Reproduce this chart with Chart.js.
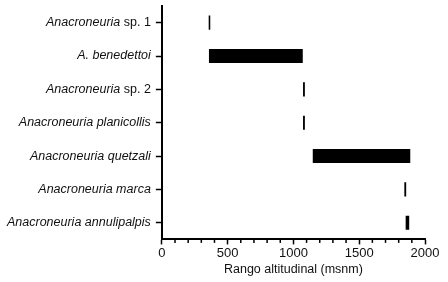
<!DOCTYPE html>
<html lang="en">
<head>
    <meta charset="UTF-8">
    <title>Rango altitudinal</title>
    <script src="https://cdn.jsdelivr.net/npm/chart.js"></script>
    <style>
        body { margin: 0; background: #fff; }
    </style>
</head>
<body>
    <canvas id="rangeChart" width="448" height="282"></canvas>

    <script>
        // species and their altitudinal range (msnm)
        const species = [
            'Anacroneuria sp. 1',
            'A. benedettoi',
            'Anacroneuria sp. 2',
            'Anacroneuria planicollis',
            'Anacroneuria quetzali',
            'Anacroneuria marca',
            'Anacroneuria annulipalpis'
        ];
        const rangeStart = [356, 358, 1073, 1073, 1147, 1843, 1853];
        const rangeEnd   = [368, 1071, 1087, 1087, 1888, 1857, 1880];
        const xTicks = [0, 500, 1000, 1500, 2000];

        const labelFont = 'italic 12.5px "Liberation Sans", Arial, sans-serif';
        const plainFont = '12.5px "Liberation Sans", Arial, sans-serif';

        // draws the y labels with the genus in italics, and the short minor ticks on x
        const extras = {
            id: 'extras',
            afterDraw(chart) {
                const ctx = chart.ctx;
                const y = chart.scales.y;
                const x = chart.scales.x;
                ctx.save();
                ctx.fillStyle = '#111';
                ctx.textBaseline = 'middle';
                ctx.textAlign = 'left';
                const right = y.right - 6 - 5;
                species.forEach((name, i) => {
                    const py = y.getPixelForTick(i);
                    let italic = name, plain = '';
                    const k = name.indexOf(' sp.');
                    if (k >= 0) { italic = name.slice(0, k); plain = name.slice(k); }
                    ctx.font = plainFont;
                    const wPlain = ctx.measureText(plain).width;
                    ctx.font = labelFont;
                    const wItalic = ctx.measureText(italic).width;
                    const start = right - wPlain - wItalic;
                    ctx.fillText(italic, start, py);
                    ctx.font = plainFont;
                    ctx.fillText(plain, start + wItalic, py);
                });
                // minor ticks every 100
                ctx.strokeStyle = '#000';
                ctx.lineWidth = 1.5;
                for (let v = 100; v < 2000; v += 100) {
                    if (v % 500 === 0) continue;
                    const px = x.getPixelForValue(v);
                    ctx.beginPath();
                    ctx.moveTo(px, x.top);
                    ctx.lineTo(px, x.top + 3.5);
                    ctx.stroke();
                }
                ctx.restore();
            }
        };

        new Chart(document.getElementById('rangeChart'), {
            type: 'bar',
            data: {
                labels: species,
                datasets: [{
                    data: species.map((s, i) => [rangeStart[i], rangeEnd[i]]),
                    backgroundColor: '#000',
                    borderWidth: 0,
                    categoryPercentage: 0.9,
                    barPercentage: 0.47
                }]
            },
            plugins: [extras],
            options: {
                indexAxis: 'y',
                responsive: false,
                animation: false,
                devicePixelRatio: 1,
                layout: { padding: { top: 6, right: 23, bottom: 5, left: 2 } },
                plugins: {
                    legend: { display: false },
                    tooltip: { enabled: false }
                },
                scales: {
                    x: {
                        min: 0,
                        max: 2000,
                        ticks: {
                            stepSize: 100,
                            autoSkip: false,
                            maxRotation: 0,
                            color: '#111',
                            padding: 1,
                            font: { family: '"Liberation Sans", Arial, sans-serif', size: 13 },
                            callback: v => xTicks.includes(v) ? v : ''
                        },
                        grid: {
                            drawOnChartArea: false,
                            tickLength: 5,
                            tickWidth: 1.5,
                            tickColor: c => (c.tick && c.tick.value % 500 === 0) ? '#000' : 'transparent'
                        },
                        border: { color: '#000', width: 2 },
                        title: {
                            display: true,
                            text: 'Rango altitudinal (msnm)',
                            color: '#111',
                            padding: { top: 0, bottom: 0 },
                            font: { family: '"Liberation Sans", Arial, sans-serif', size: 12.5 }
                        }
                    },
                    y: {
                        afterFit: axis => { axis.paddingTop = 0; axis.paddingBottom = 0; },
                        ticks: {
                            color: 'transparent',
                            padding: 5,
                            font: { family: '"Liberation Sans", Arial, sans-serif', size: 12.5, style: 'italic' }
                        },
                        grid: {
                            offset: false,
                            drawOnChartArea: false,
                            tickLength: 6,
                            tickWidth: 1.5,
                            tickColor: '#000'
                        },
                        border: { color: '#000', width: 2 }
                    }
                }
            }
        });
    </script>
</body>
</html>
